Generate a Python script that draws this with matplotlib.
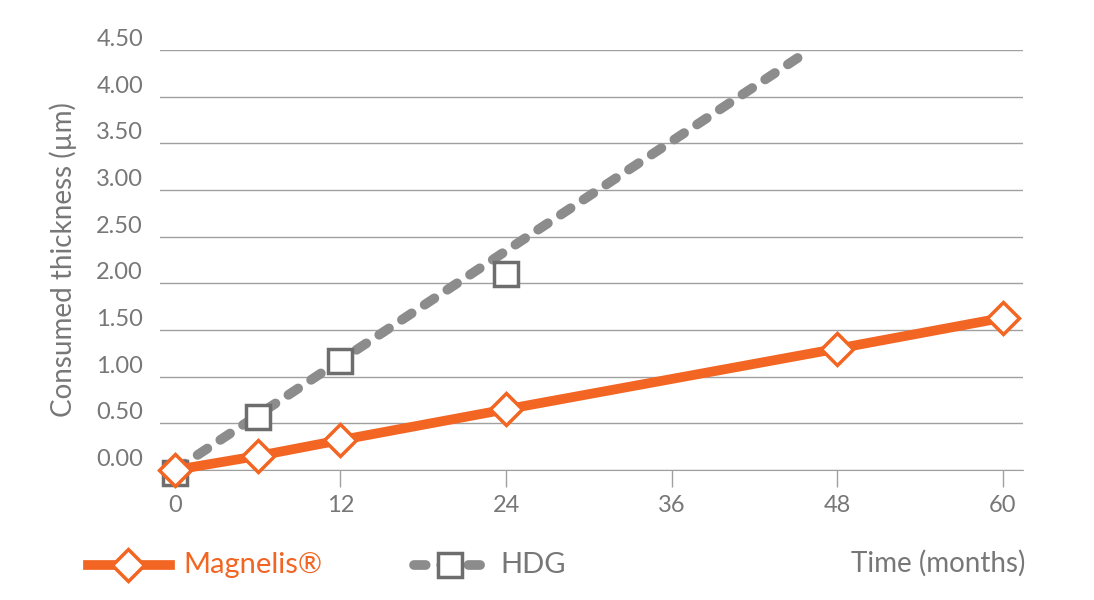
import matplotlib.pyplot as plt
from matplotlib.lines import Line2D

# data
months = [0, 6, 12, 24, 48, 60]
magnelis = [0.0, 0.15, 0.32, 0.65, 1.30, 1.63]
hdg_months = [0, 6, 12, 24]
hdg = [-0.03, 0.57, 1.17, 2.10]
hdg_trend_x = [0, 46]
hdg_trend_y = [0.0, 4.5]
yticks = [0, 0.5, 1, 1.5, 2, 2.5, 3, 3.5, 4, 4.5]
xticks = [0, 12, 24, 36, 48, 60]

orange = '#f26522'
gray = '#8c8c8c'
txt = '#777777'
plt.rcParams['font.family'] = 'Lato'

fig = plt.figure(figsize=(10.94, 6), dpi=100)
ax = fig.add_axes([0.146, 0.2167, 0.789, 0.70])

ax.plot(hdg_trend_x, hdg_trend_y, color=gray, lw=7, ls=(0, (1.2, 1.6)),
        dash_capstyle='round', zorder=2)
ax.plot(hdg_months, hdg, ls='none', marker='s', ms=17, mfc='white',
        mec='#6d6d6d', mew=2.5, zorder=4, clip_on=False)
ax.plot(months, magnelis, color=orange, lw=7, marker='D', ms=16, mfc='white',
        mec=orange, mew=2.5, zorder=5, clip_on=False)

ax.set_xlim(-1.1, 61.45)
ax.set_ylim(0, 4.5)
ax.set_yticks(yticks)
ax.set_yticklabels([f'{v:.2f}' for v in yticks])
ax.set_xticks(xticks)
ax.grid(axis='y', color='#a0a0a0', lw=1)
ax.set_axisbelow(True)
for s in ['top', 'right', 'left']:
    ax.spines[s].set_visible(False)
ax.spines['bottom'].set_color('#a0a0a0')
ax.tick_params(axis='y', length=0, pad=12, labelsize=17, colors=txt)
for lab in ax.get_yticklabels():
    lab.set_verticalalignment('bottom')
ax.tick_params(axis='x', length=12, width=1, color='#a0a0a0', pad=6,
               labelsize=17, colors=txt)
ax.set_ylabel('Consumed thickness (µm)', fontsize=20, color=txt, labelpad=14)

# legend drawn at the bottom
fig.lines.append(Line2D([88 / 1094, 170 / 1094], [0.058, 0.058], color=orange,
                        lw=7, transform=fig.transFigure))
fig.lines.append(Line2D([128 / 1094], [0.058], ls='none', marker='D', ms=16,
                        mfc='white', mec=orange, mew=2.5, transform=fig.transFigure))
fig.text(183 / 1094, 0.058, 'Magnelis®', color=orange, fontsize=21, va='center')
fig.lines.append(Line2D([414 / 1094, 488 / 1094], [0.058, 0.058], color=gray,
                        lw=7, ls=(0, (1.2, 1.6)), dash_capstyle='round',
                        transform=fig.transFigure))
fig.lines.append(Line2D([450 / 1094], [0.058], ls='none', marker='s', ms=17,
                        mfc='white', mec='#6d6d6d', mew=2.5, transform=fig.transFigure))
fig.text(500 / 1094, 0.058, 'HDG', color=txt, fontsize=21, va='center')
fig.text(1025 / 1094, 0.062, 'Time (months)', color=txt, fontsize=20,
         va='center', ha='right')

fig.savefig('out.png', dpi=100)
